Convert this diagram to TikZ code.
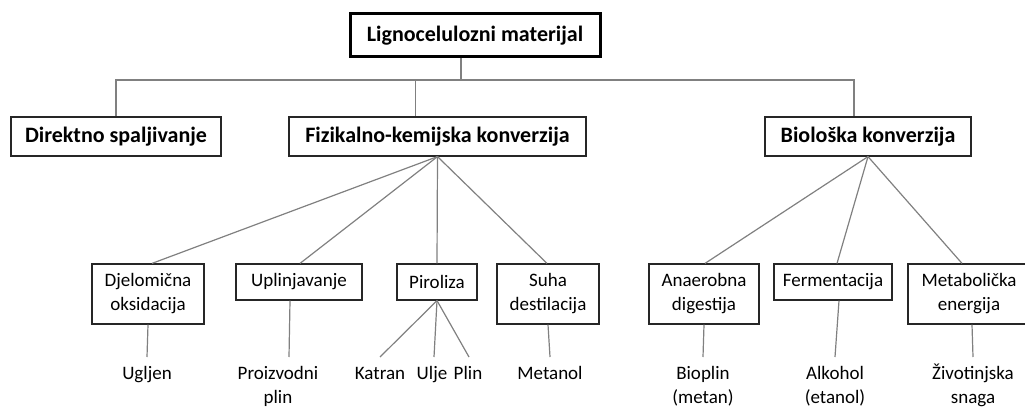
\documentclass[tikz,border=0pt]{standalone}
\usepackage{fontspec}
\setmainfont{Carlito}
\usepackage{tikz}
\tikzset{
  box/.style={draw=black!85,line width=1.2pt,fill=white,align=center,inner sep=0pt,font=\fontsize{19}{24}\selectfont},
  headbox/.style={box,font=\bfseries\fontsize{22}{26}\selectfont},
  rootbox/.style={headbox,draw=black,line width=3pt},
  leaf/.style={anchor=north,align=center,inner sep=0pt,outer ysep=6pt,font=\fontsize{19}{24}\selectfont},
  link/.style={draw=black!50,line width=1.2pt}
}

\begin{document}
\begin{tikzpicture}[x=1pt,y=-1pt]
      \useasboundingbox (0,0) rectangle (1025,409);
      \node[rootbox,minimum width=250,minimum height=43] (root) at (475,35.5) {Lignocelulozni materijal};
      \node[headbox,minimum width=210,minimum height=39] (direkt) at (116,136.5) {Direktno spaljivanje};
      \node[headbox,minimum width=297,minimum height=39] (fiz) at (437.5,136.5) {Fizikalno-kemijska konverzija};
      \node[headbox,minimum width=206,minimum height=39] (bio) at (868,136.5) {Biološka konverzija};
      \coordinate (bus) at (461,80);
      \draw[link] ([xshift=-14]root.south) -- (bus);
      \draw[link] (bus) -| (direkt.north);
      \draw[link] (bus) -| ([xshift=-22]fiz.north);
      \draw[link] (bus) -| ([xshift=-14]bio.north);
      % fizikalno-kemijska
      \node[box,minimum width=112,minimum height=60] (djel) at (148,294) {Djelomična\\oksidacija};
      \node[box,minimum width=126,minimum height=36] (upl) at (299,282) {Uplinjavanje};
      \node[box,minimum width=80,minimum height=36] (piro) at (437,282) {Piroliza};
      \node[box,minimum width=102,minimum height=60] (suha) at (548,294) {Suha\\destilacija};
      \foreach \n/\s in {djel/4,upl/1,piro/0,suha/-1}
        \draw[link] (fiz.south) -- ([xshift=\s]\n.north);
      % bioloska
      \node[box,minimum width=110,minimum height=60] (anae) at (704,294) {Anaerobna\\digestija};
      \node[box,minimum width=118,minimum height=36] (ferm) at (833,282) {Fermentacija};
      \node[box,minimum width=122,minimum height=60] (meta) at (969,294) {Metabolička\\energija};
      \foreach \n/\s in {anae/1,ferm/4,meta/-7}
        \draw[link] (bio.south) -- ([xshift=\s]\n.north);
      % produkti
      \node[leaf] (ugljen) at (147,357) {\strut Ugljen};
      \node[leaf] (proizv) at (278,357) {\strut Proizvodni\\plin};
      \node[leaf] (katran) at (380,357) {\strut Katran};
      \node[leaf] (ulje) at (432,357) {\strut Ulje};
      \node[leaf] (plin) at (468,357) {\strut Plin};
      \node[leaf] (metanol) at (550,357) {\strut Metanol};
      \node[leaf] (bioplin) at (703,357) {\strut Bioplin\\(metan)};
      \node[leaf] (alkohol) at (835,357) {\strut Alkohol\\(etanol)};
      \node[leaf] (zivot) at (973,357) {\strut Životinjska\\snaga};
      \draw[link] (djel.south) -- (ugljen.north);
      \draw[link] ([xshift=-9]upl.south) -- ([xshift=11]proizv.north);
      \foreach \n/\s in {katran/0,ulje/2,plin/1}
        \draw[link] (piro.south) -- ([xshift=\s]\n.north);
      \draw[link] (suha.south) -- (metanol.north);
      \draw[link] (anae.south) -- (bioplin.north);
      \draw[link] ([xshift=6]ferm.south) -- (alkohol.north);
      \draw[link] ([xshift=3]meta.south) -- (zivot.north);
    \end{tikzpicture}
\end{document}
